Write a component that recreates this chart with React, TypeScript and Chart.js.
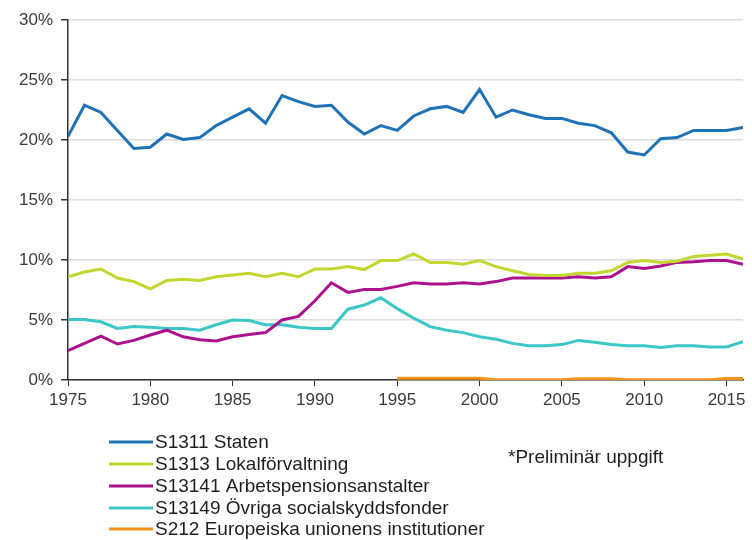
import React, { useEffect, useRef } from "react";
import { Chart, registerables } from "chart.js";

Chart.register(...registerables);

const years: number[] = [];
for (let y = 1975; y <= 2016; y++) years.push(y);

const staten = [20.3, 22.9, 22.3, 20.8, 19.3, 19.4, 20.5, 20.05, 20.2, 21.2, 21.9, 22.6, 21.4, 23.7, 23.2, 22.8, 22.9, 21.5, 20.5, 21.2, 20.8, 22.0, 22.6, 22.8, 22.3, 24.2, 21.9, 22.5, 22.1, 21.8, 21.8, 21.4, 21.2, 20.6, 19.0, 18.75, 20.1, 20.2, 20.8, 20.8, 20.8, 21.05];
const lokal = [8.6, 9.0, 9.25, 8.5, 8.2, 7.6, 8.3, 8.4, 8.3, 8.6, 8.75, 8.9, 8.6, 8.9, 8.6, 9.25, 9.25, 9.45, 9.2, 9.95, 9.95, 10.5, 9.8, 9.8, 9.65, 9.95, 9.45, 9.1, 8.8, 8.7, 8.7, 8.9, 8.9, 9.1, 9.8, 9.95, 9.8, 9.9, 10.3, 10.4, 10.5, 10.1];
const arbets = [2.45, 3.05, 3.65, 3.0, 3.3, 3.75, 4.15, 3.6, 3.35, 3.25, 3.6, 3.8, 3.95, 5.0, 5.3, 6.6, 8.1, 7.3, 7.55, 7.55, 7.8, 8.1, 8.0, 8.0, 8.1, 8.0, 8.2, 8.5, 8.5, 8.5, 8.5, 8.6, 8.5, 8.6, 9.45, 9.3, 9.5, 9.8, 9.85, 9.95, 9.95, 9.65];
const ovriga = [5.05, 5.05, 4.85, 4.3, 4.45, 4.4, 4.3, 4.3, 4.15, 4.6, 5.0, 4.95, 4.6, 4.6, 4.4, 4.3, 4.3, 5.9, 6.25, 6.85, 5.95, 5.15, 4.45, 4.15, 3.95, 3.6, 3.4, 3.05, 2.85, 2.85, 2.95, 3.3, 3.15, 2.95, 2.85, 2.85, 2.7, 2.85, 2.85, 2.75, 2.75, 3.2];
const eu: (number | null)[] = [null, null, null, null, null, null, null, null, null, null, null, null, null, null, null, null, null, null, null, null, 0.15, 0.15, 0.15, 0.15, 0.15, 0.15, 0.03, 0.03, 0.03, 0.03, 0.03, 0.1, 0.1, 0.1, 0.03, 0.03, 0.03, 0.03, 0.03, 0.03, 0.12, 0.12];

const seriesNames = [
  "S1311 Staten",
  "S1313 Lokalförvaltning",
  "S13141 Arbetspensionsanstalter",
  "S13149 Övriga socialskyddsfonder",
  "S212 Europeiska unionens institutioner",
];
const seriesColors = ["#1f72b6", "#c3d630", "#ac128e", "#3cc6c6", "#f39419"];
const seriesValues = [staten, lokal, arbets, ovriga, eu];
const noteText = "*Preliminär uppgift";
const yTicks = [0, 5, 10, 15, 20, 25, 30];

const FONT = "'Liberation Sans', Arial, sans-serif";

const legendPlugin = {
  id: "customLegend",
  afterDraw(chart: any) {
    const ctx = chart.ctx;
    ctx.save();
    ctx.font = `19px ${FONT}`;
    ctx.textBaseline = "middle";
    ctx.textAlign = "left";
    const ys = [442, 464, 486, 508, 529];
    seriesNames.forEach((name, i) => {
      ctx.strokeStyle = seriesColors[i];
      ctx.lineWidth = 3;
      ctx.beginPath();
      ctx.moveTo(109, ys[i]);
      ctx.lineTo(153, ys[i]);
      ctx.stroke();
      ctx.fillStyle = "#1e1e1e";
      ctx.fillText(name, 155, ys[i] + 1);
    });
    ctx.fillText(noteText, 508, 458);
    ctx.restore();
  },
};

export default function App() {
  const ref = useRef<HTMLCanvasElement | null>(null);
  useEffect(() => {
    document.body.style.margin = "0";
    const canvas = ref.current!;
    const chart = new Chart(canvas, {
      type: "line",
      data: {
        datasets: seriesNames.map((name, i) => ({
          label: name,
          data: years.map((yr, j) => ({ x: yr, y: seriesValues[i][j] as any })),
          borderColor: seriesColors[i],
          backgroundColor: seriesColors[i],
          borderWidth: 3,
          pointRadius: 0,
          tension: 0,
          spanGaps: false,
        })),
      },
      options: {
        animation: false,
        responsive: false,
        maintainAspectRatio: false,
        layout: { padding: { left: 0, right: 9, top: 20, bottom: 130 } },
        plugins: { legend: { display: false }, tooltip: { enabled: false } },
        scales: {
          x: {
            type: "linear",
            min: 1975,
            max: 2016,
            afterFit: (s: any) => { s.height = 30; },
            grid: { drawOnChartArea: false, drawTicks: true, tickLength: 6, tickColor: "#333" },
            border: { color: "#333", width: 1.5 },
            ticks: {
              stepSize: 5,
              includeBounds: false,
              padding: 4,
              color: "#3a3a3a",
              font: { family: FONT, size: 17 },
              maxRotation: 0,
              callback: (v: any) => String(v),
            },
          },
          y: {
            min: 0,
            max: 30,
            afterFit: (s: any) => { s.width = 68; },
            afterBuildTicks: (s: any) => { s.ticks = yTicks.map((v) => ({ value: v })); },
            grid: { color: "#dcdcdc", lineWidth: 1.5, tickLength: 7, tickColor: "#333" },
            border: { color: "#333", width: 1.5 },
            ticks: {
              padding: 8,
              color: "#3a3a3a",
              font: { family: FONT, size: 17 },
              callback: (v: any) => `${v}%`,
            },
          },
        },
      },
      plugins: [legendPlugin],
    });
    return () => chart.destroy();
  }, []);
  return (
    <div style={{ position: "relative", width: 752, height: 540, background: "#fff" }}>
      <canvas ref={ref} width={752} height={540} style={{ width: 752, height: 540 }} />
    </div>
  );
}
